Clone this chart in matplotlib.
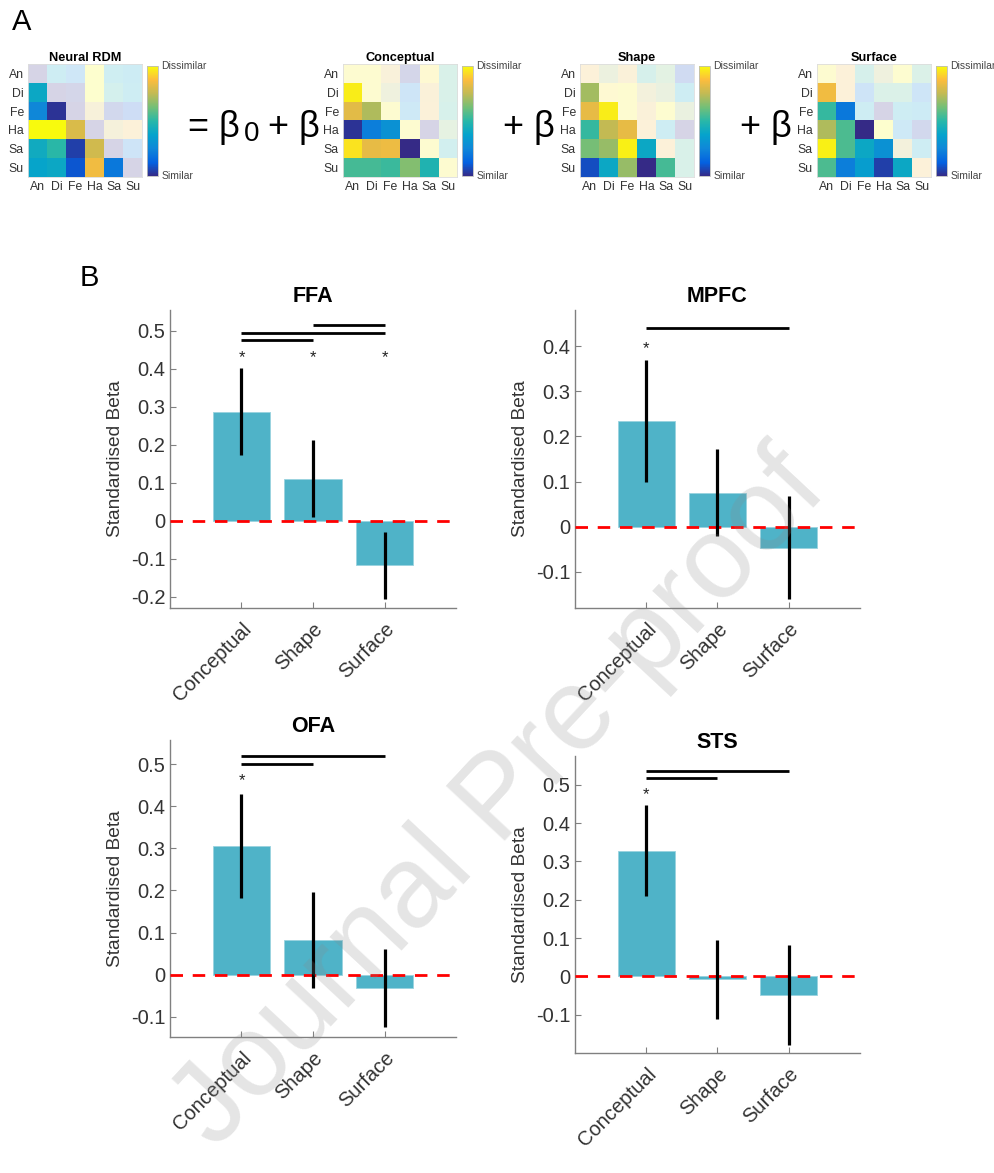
import numpy as np
import matplotlib
matplotlib.use('Agg')
import matplotlib.pyplot as plt
from matplotlib.colors import LinearSegmentedColormap
from matplotlib.cm import ScalarMappable
from matplotlib.ticker import FuncFormatter

plt.rcParams['font.family'] = ['Liberation Sans', 'DejaVu Sans']

W, H = 995, 1173

# ---- panel A: RDMs (lower triangle rows Di..Su, then diagonal) ----
emotions = ["An", "Di", "Fe", "Ha", "Sa", "Su"]
rdm_titles = ["Neural RDM", "Conceptual", "Shape", "Surface"]

neural_lower = [[0.40],
                [0.25, 0.02],
                [1.00, 1.00, 0.80],
                [0.42, 0.50, 0.05, 0.78],
                [0.38, 0.40, 0.10, 0.85, 0.20]]
neural_diag = [0.0, 0.0, 0.0, 0.0, 0.0, 0.0]

concept_lower = [[0.97],
                 [0.82, 0.72],
                 [0.02, 0.22, 0.30],
                 [0.95, 0.83, 0.84, 0.00],
                 [0.55, 0.55, 0.53, 0.65, 0.47]]
concept_diag = [0.97, 0.97, 0.97, 0.97, 0.97, 0.97]

shape_lower = [[0.70],
               [0.83, 0.97],
               [0.52, 0.75, 0.83],
               [0.63, 0.68, 0.98, 0.40],
               [0.08, 0.40, 0.68, 0.00, 0.55]]
shape_diag = [0.85, 0.95, 0.97, 0.85, 0.85, 0.55]

surface_lower = [[0.85],
                 [0.52, 0.20],
                 [0.72, 0.56, 0.00],
                 [0.98, 0.56, 0.40, 0.30],
                 [0.56, 0.22, 0.35, 0.05, 0.40]]
surface_diag = [0.97, 0.85, 0.40, 1.00, 0.75, 0.85]

# ---- panel B: standardised betas ----
models = ["Conceptual", "Shape", "Surface"]
regions = ["FFA", "MPFC", "OFA", "STS"]

ffa_beta = [0.287, 0.110, -0.118]
ffa_lo = [0.172, 0.010, -0.205]
ffa_hi = [0.403, 0.212, -0.030]
ffa_star = [True, True, True]
ffa_pairs = [(0, 1), (0, 2), (1, 2)]

mpfc_beta = [0.235, 0.075, -0.047]
mpfc_lo = [0.100, -0.020, -0.160]
mpfc_hi = [0.370, 0.172, 0.068]
mpfc_star = [True, False, False]
mpfc_pairs = [(0, 2)]

ofa_beta = [0.305, 0.082, -0.031]
ofa_lo = [0.182, -0.032, -0.125]
ofa_hi = [0.430, 0.197, 0.062]
ofa_star = [True, False, False]
ofa_pairs = [(0, 1), (0, 2)]

sts_beta = [0.328, -0.008, -0.048]
sts_lo = [0.210, -0.110, -0.180]
sts_hi = [0.447, 0.094, 0.083]
sts_star = [True, False, False]
sts_pairs = [(0, 1), (0, 2)]

parula = LinearSegmentedColormap.from_list("parula", [
    (0.000, (0.208, 0.166, 0.529)),
    (0.120, (0.015, 0.380, 0.880)),
    (0.250, (0.060, 0.530, 0.850)),
    (0.375, (0.020, 0.640, 0.800)),
    (0.500, (0.160, 0.720, 0.660)),
    (0.625, (0.450, 0.750, 0.470)),
    (0.750, (0.760, 0.730, 0.330)),
    (0.875, (0.990, 0.740, 0.240)),
    (1.000, (0.976, 0.983, 0.054))])


def full_matrix(lower, diag):
    m = np.diag(np.array(diag, dtype=float))
    for i, row in enumerate(lower):
        for j, v in enumerate(row):
            m[i + 1, j] = v
            m[j, i + 1] = v
    return m


def px_axes(fig, l, t, w, h):
    return fig.add_axes([l / W, 1 - (t + h) / H, w / W, h / H])


fig = plt.figure(figsize=(W / 100, H / 100), dpi=100)

rdms = [full_matrix(neural_lower, neural_diag), full_matrix(concept_lower, concept_diag),
        full_matrix(shape_lower, shape_diag), full_matrix(surface_lower, surface_diag)]
mat_left = [28, 343, 580, 817]
cbar_left = [147, 462, 699, 936]
lower_mask = np.tril(np.ones((6, 6), dtype=bool), -1)
txt_gray = '#333333'

for k, m in enumerate(rdms):
    ax = px_axes(fig, mat_left[k], 64, 114, 113)
    ax.imshow(np.ma.masked_where(lower_mask, m), cmap=parula, vmin=0, vmax=1, alpha=0.2,
              interpolation='nearest', aspect='auto')
    ax.imshow(np.ma.masked_where(~lower_mask, m), cmap=parula, vmin=0, vmax=1,
              interpolation='nearest', aspect='auto')
    ax.set_xticks(range(6))
    ax.set_yticks(range(6))
    ax.set_xticklabels(emotions, fontsize=8.8, color=txt_gray)
    ax.set_yticklabels(emotions, fontsize=8.8, color=txt_gray)
    ax.tick_params(length=0, pad=3)
    for s in ax.spines.values():
        s.set_color('#dddddd')
        s.set_linewidth(0.6)
    ax.set_title(rdm_titles[k], fontsize=9.2, fontweight='bold', pad=2)

    cax = px_axes(fig, cbar_left[k], 66, 11, 110)
    cb = fig.colorbar(ScalarMappable(cmap=parula), cax=cax)
    cb.set_ticks([])
    cb.outline.set_edgecolor('#bbbbbb')
    cb.outline.set_linewidth(0.6)
    cax.text(1.3, 1.0, "Dissimilar", transform=cax.transAxes, fontsize=7.5,
             color='#444444', va='center', ha='left')
    cax.text(1.3, 0.0, "Similar", transform=cax.transAxes, fontsize=7.5,
             color='#444444', va='center', ha='left')

eq_font = dict(fontsize=26, va='baseline', ha='left', color='black')
eq_base = 1 - 137 / H
fig.text(188 / W, eq_base, "= β", **eq_font)
fig.text(244 / W, eq_base - 4 / H, "0", fontsize=20, va='baseline', ha='left')
fig.text(268 / W, eq_base, "+ β", **eq_font)
fig.text(503 / W, eq_base, "+ β", **eq_font)
fig.text(740 / W, eq_base, "+ β", **eq_font)

fig.text(12 / W, 1 - 22 / H, "A", fontsize=21, va='center', ha='left')
fig.text(80 / W, 1 - 278 / H, "B", fontsize=21, va='center', ha='left')

# bar panels
bar_color = '#4fb3c8'
axis_gray = '#808080'
panels = [
    (ffa_beta, ffa_lo, ffa_hi, ffa_star, ffa_pairs),
    (mpfc_beta, mpfc_lo, mpfc_hi, mpfc_star, mpfc_pairs),
    (ofa_beta, ofa_lo, ofa_hi, ofa_star, ofa_pairs),
    (sts_beta, sts_lo, sts_hi, sts_star, sts_pairs),
]
boxes = [(170, 310, 286, 298), (575, 310, 285, 298), (170, 740, 286, 297), (575, 756, 285, 297)]
ylims = [(-0.23, 0.555), (-0.18, 0.48), (-0.148, 0.557), (-0.20, 0.575)]
yticks = [np.arange(-2, 6) / 10, np.arange(-1, 5) / 10, np.arange(-1, 6) / 10, np.arange(-1, 6) / 10]
star_y = [0.43, 0.395, 0.46, 0.475]
pair_y = [[0.475, 0.495, 0.515], [0.44], [0.50, 0.52], [0.517, 0.537]]

fmt = FuncFormatter(lambda v, p: "0" if abs(v) < 1e-9 else f"{v:g}")

for k, (beta, lo, hi, star, pairs) in enumerate(panels):
    ax = px_axes(fig, *boxes[k])
    x = np.arange(1, len(models) + 1)
    ax.bar(x, beta, width=0.8, color=bar_color, edgecolor='#9ad3df', linewidth=0.6, zorder=2)
    ax.vlines(x, lo, hi, color='black', linewidth=2.3, zorder=4)
    ax.axhline(0, color='red', linestyle=(0, (4.5, 3.5)), linewidth=2.0, zorder=3)
    for i, s in enumerate(star):
        if s:
            ax.text(x[i], star_y[k], "*", ha='center', va='center', fontsize=12, color='#222222')
    for (a, b), yy in zip(pairs, pair_y[k]):
        ax.plot([x[a], x[b]], [yy, yy], color='black', linewidth=2.0, solid_capstyle='butt')
    ax.set_xlim(0, 4)
    ax.set_ylim(*ylims[k])
    ax.set_yticks(yticks[k])
    ax.yaxis.set_major_formatter(fmt)
    ax.set_xticks(x)
    ax.set_xticklabels(models, rotation=45, ha='right', rotation_mode='anchor')
    ax.tick_params(direction='in', length=4, width=0.8, color=axis_gray, labelsize=14.5,
                   labelcolor='#333333')
    ax.tick_params(axis='x', pad=8)
    for side in ['top', 'right']:
        ax.spines[side].set_visible(False)
    for side in ['left', 'bottom']:
        ax.spines[side].set_color(axis_gray)
        ax.spines[side].set_linewidth(1.0)
    ax.set_ylabel("Standardised Beta", fontsize=13.8, color='#333333', labelpad=5)
    ax.set_title(regions[k], fontsize=15.5, fontweight='bold', pad=6)

fig.text(500 / W, 1 - 800 / H, "Journal Pre-proof", fontsize=84, rotation=47,
         ha='center', va='center', color='#888888', alpha=0.22, zorder=10)

fig.savefig("out.png", dpi=100)
